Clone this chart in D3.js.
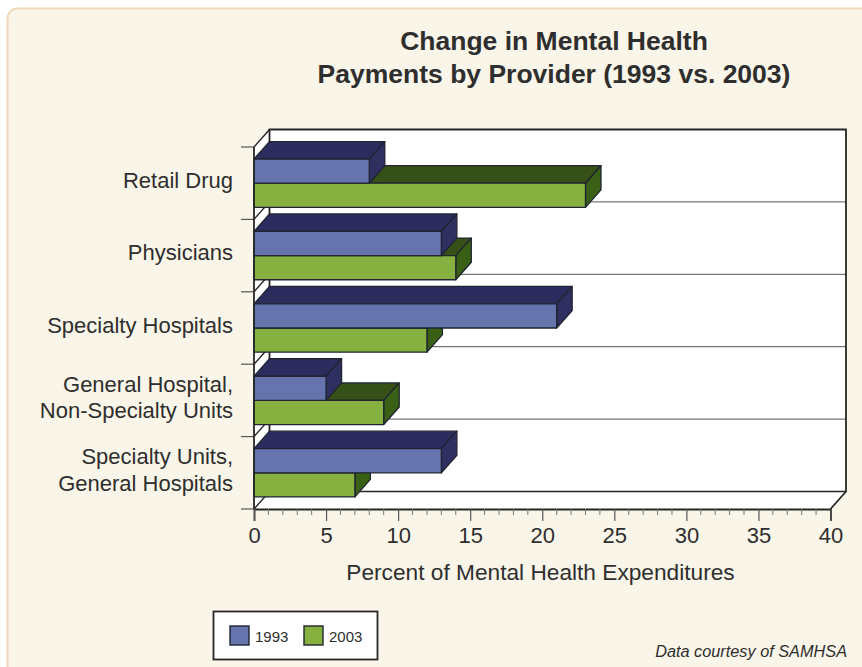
<!DOCTYPE html>
<html>
<head>
<meta charset="utf-8">
<script src="https://cdn.jsdelivr.net/npm/d3@7/dist/d3.min.js"></script>
<style>
  html, body { margin: 0; padding: 0; background: #fff; }
  svg { display: block; }
  text { font-family: "Liberation Sans", Arial, sans-serif; fill: #2e2e2e; }
</style>
</head>
<body>
<div id="chart"></div>
<script>
// Mental health payments by provider, as shares of expenditure
const categories = ["Retail Drug", "Physicians", "Specialty Hospitals", "General Hospital,|Non-Specialty Units", "Specialty Units,|General Hospitals"];
const seriesNames = ["1993", "2003"];
const values1993 = [8, 13, 21, 5, 13];
const values2003 = [23, 14, 12, 9, 7];
const xTicks = [0, 5, 10, 15, 20, 25, 30, 35, 40];
const minorTicks = d3.range(0, 41);
const titleLines = ["Change in Mental Health", "Payments by Provider (1993 vs. 2003)"];
const axisTitle = "Percent of Mental Health Expenditures";
const credit = "Data courtesy of SAMHSA";

const W = 862, H = 667;
const plot = { left: 254, right: 830.5, top: 147, bottom: 509 };
const depth = { x: 15.5, y: 17.5 };
const ink = "#262626";
const palette = {
  "1993": { face: "#6574ad", top: "#2c2c5e", side: "#2f2f61" },
  "2003": { face: "#86b040", top: "#355117", side: "#3a6016" }
};

const svg = d3.select("#chart").append("svg").attr("width", W).attr("height", H);

// Cream panel with a rounded corner, running off the right and bottom edges
svg.append("rect").attr("x", 7.5).attr("y", 8.5).attr("width", W + 20).attr("height", H + 20)
  .attr("rx", 10).attr("fill", "#faf5e9").attr("stroke", "#f2d8ba").attr("stroke-width", 2);

const x = d3.scaleLinear().domain([0, 40]).range([plot.left, plot.right]);
const y = d3.scaleBand().domain(categories).range([plot.top, plot.bottom]);
const inner = d3.scaleBand().domain(seriesNames).range([0, y.bandwidth()]).paddingOuter(0.5);

const poly = pts => pts.map(p => p.join(",")).join(" ");
const dx = depth.x, dy = depth.y;

// Box walls: back wall, left wall and floor
const walls = svg.append("g");
walls.append("polygon")
  .attr("points", poly([[x(0), plot.top], [x(0) + dx, plot.top - dy], [x(40) + dx, plot.top - dy],
                        [x(40) + dx, plot.bottom - dy], [x(40), plot.bottom], [x(0), plot.bottom]]))
  .attr("fill", "#fff");

// Shelf lines at each category boundary, along the back wall and up the left wall
const boundaries = y.domain().map(c => y(c) + y.bandwidth());
walls.selectAll("line.shelf").data(boundaries).join("line")
  .attr("x1", x(0) + dx).attr("x2", x(40) + dx)
  .attr("y1", d => d - dy).attr("y2", d => d - dy)
  .attr("stroke", (d, i) => i === 4 ? ink : "#555")
  .attr("stroke-width", (d, i) => i === 4 ? 1.6 : 1);
walls.selectAll("line.wedge").data([plot.top].concat(boundaries)).join("line")
  .attr("x1", x(0)).attr("y1", d => d)
  .attr("x2", x(0) + dx).attr("y2", d => d - dy)
  .attr("stroke", ink).attr("stroke-width", 1.4);
walls.append("path")
  .attr("d", `M${x(0) + dx},${plot.bottom - dy}V${plot.top - dy}H${x(40) + dx}V${plot.bottom - dy}L${x(40)},${plot.bottom}`)
  .attr("fill", "none").attr("stroke", ink).attr("stroke-width", 1.8);

// 3-D bars: the later series goes down first so the earlier one overlaps its top
function drawBars(name, vals) {
  const c = palette[name];
  const g = svg.append("g").attr("stroke", "#1f2430").attr("stroke-width", 1.3).attr("stroke-linejoin", "round");
  const rows = categories.map((cat, i) => ({
    x1: x(vals[i]),
    y0: y(cat) + inner(name),
    y1: y(cat) + inner(name) + inner.bandwidth()
  }));
  g.selectAll("polygon.top").data(rows).join("polygon")
    .attr("points", d => poly([[x(0), d.y0], [x(0) + dx, d.y0 - dy], [d.x1 + dx, d.y0 - dy], [d.x1, d.y0]]))
    .attr("fill", c.top);
  g.selectAll("polygon.side").data(rows).join("polygon")
    .attr("points", d => poly([[d.x1, d.y0], [d.x1 + dx, d.y0 - dy], [d.x1 + dx, d.y1 - dy], [d.x1, d.y1]]))
    .attr("fill", c.side);
  g.selectAll("rect").data(rows).join("rect")
    .attr("x", x(0)).attr("y", d => d.y0)
    .attr("width", d => d.x1 - x(0)).attr("height", d => d.y1 - d.y0)
    .attr("fill", c.face);
}
drawBars("2003", values2003);
drawBars("1993", values1993);

// Value axis with major and minor ticks
const axisG = svg.append("g").attr("transform", `translate(0,${plot.bottom})`);
axisG.call(d3.axisBottom(x).tickValues(xTicks).tickSize(12).tickPadding(6.7).tickFormat(d3.format("d")));
axisG.select(".domain").attr("stroke", ink).attr("stroke-width", 1.8);
axisG.selectAll(".tick line").attr("stroke", "#555").attr("stroke-width", 1.2);
axisG.selectAll(".tick text").attr("font-size", 22).attr("font-family", "Liberation Sans").style("fill", "#2e2e2e");
axisG.selectAll("line.minor").data(minorTicks.filter(v => v % 5 !== 0)).join("line")
  .attr("class", "minor").attr("x1", d => x(d)).attr("x2", d => x(d))
  .attr("y1", 0).attr("y2", 6).attr("stroke", "#777").attr("stroke-width", 1);

// Category ticks on the front-left edge
svg.selectAll("line.cat").data([plot.top].concat(boundaries)).join("line")
  .attr("class", "cat").attr("x1", x(0) - 13).attr("x2", x(0))
  .attr("y1", d => d).attr("y2", d => d).attr("stroke", "#555").attr("stroke-width", 1.2);
svg.append("line").attr("x1", x(0)).attr("x2", x(0)).attr("y1", plot.top).attr("y2", plot.bottom)
  .attr("stroke", ink).attr("stroke-width", 1.8);

// Category labels, some on two lines
const labels = svg.selectAll("text.cat").data(categories).join("text")
  .attr("class", "cat").attr("text-anchor", "end").attr("font-size", 22);
labels.each(function (c) {
  const lines = c.split("|");
  const mid = y(c) + y.bandwidth() / 2 + 4.5;
  d3.select(this).selectAll("tspan").data(lines).join("tspan")
    .attr("x", 233)
    .attr("y", (d, i) => mid + (i - (lines.length - 1) / 2) * 26.5)
    .text(d => d);
});

// Titles
svg.selectAll("text.title").data(titleLines).join("text")
  .attr("class", "title").attr("x", 554).attr("y", (d, i) => 49.5 + i * 33)
  .attr("text-anchor", "middle").attr("font-size", 26.5).attr("font-weight", "bold").text(d => d);
svg.append("text").attr("x", 540.5).attr("y", 579.5).attr("text-anchor", "middle")
  .attr("font-size", 22.7).text(axisTitle);
svg.append("text").attr("x", 847).attr("y", 657).attr("text-anchor", "end")
  .attr("font-size", 16.3).attr("font-style", "italic").text(credit);

// Legend
const legend = svg.append("g");
legend.append("rect").attr("x", 213.5).attr("y", 611.5).attr("width", 164).attr("height", 48)
  .attr("fill", "#fff").attr("stroke", ink).attr("stroke-width", 1.8);
const legendX = d3.scalePoint().domain(seriesNames).range([230, 304]);
const item = legend.selectAll("g").data(seriesNames).join("g")
  .attr("transform", d => `translate(${legendX(d)},626)`);
item.append("rect").attr("width", 19).attr("height", 19)
  .attr("fill", d => palette[d].face).attr("stroke", "#1f2430").attr("stroke-width", 1.4);
item.append("text").attr("x", 25).attr("y", 15.5).attr("font-size", 15).text(d => d);
</script>
</body>
</html>
